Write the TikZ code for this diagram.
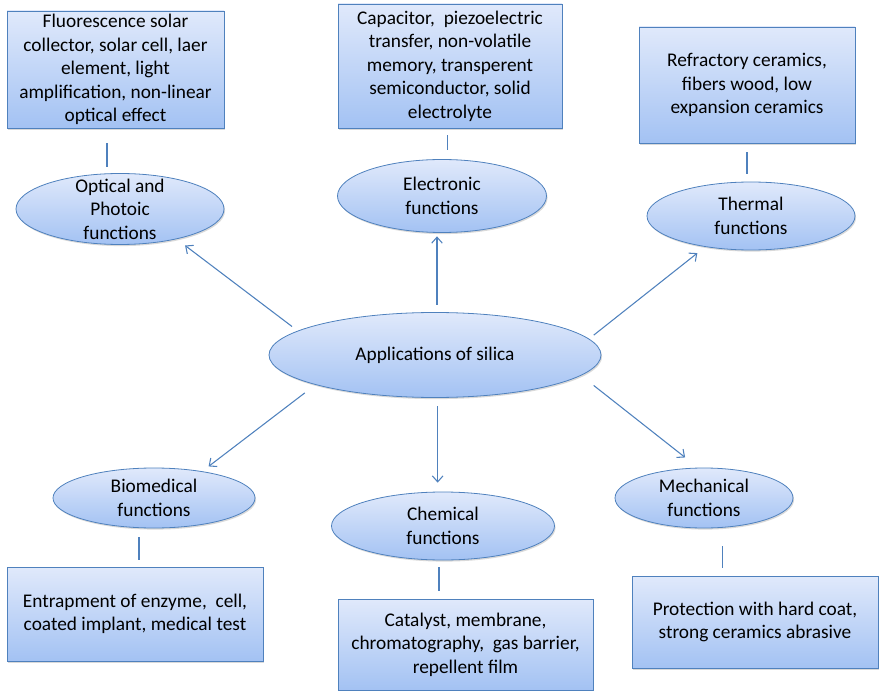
\documentclass[tikz,border=0pt]{standalone}
\usepackage{fontspec}
\setmainfont{Carlito}
\usetikzlibrary{positioning, arrows.meta, shapes.geometric, shadows}
\definecolor{edgeblue}{RGB}{79,129,189}
\definecolor{filltop}{RGB}{224,233,251}
\definecolor{fillbot}{RGB}{163,194,243}
\newcommand{\diafont}{\fontsize{14.5}{17.6}\selectfont}

\begin{document}
\begin{tikzpicture}[x=0.75pt, y=-0.75pt,
    shade/.style={top color=filltop, bottom color=fillbot, draw=edgeblue, line width=0.6pt,
      drop shadow={shadow xshift=0.8pt, shadow yshift=-1.2pt, opacity=0.25, fill=black!60}},
    infobox/.style={shade, rectangle, inner sep=0pt, align=center, font=\diafont},
    func/.style={shade, ellipse, inner sep=0pt},
    functext/.style={align=center, font=\diafont, inner sep=0pt},
    arr/.style={draw=edgeblue, line width=0.8pt, -{Straight Barb[length=4.5pt, width=8pt]}},
    link/.style={draw=edgeblue, line width=0.8pt}]
  \useasboundingbox (0,0) rectangle (881,691);

  % Centre
  \node[func, minimum width=249pt, minimum height=63.75pt,
    label={[functext]center:Applications of silica}] (app) at (435,355) {};

  % Functions
  \node[func, minimum width=156pt, minimum height=53.25pt,
    label={[functext]center:Optical and\\Photoic\\functions}] (opt) at (120,209) {};
  \node[func, minimum width=156.75pt, minimum height=54.75pt,
    label={[functext]center:Electronic\\functions}] (elec) at (442,196) {};
  \node[func, minimum width=156pt, minimum height=51pt,
    label={[functext]center:Thermal\\functions}] (therm) at (751,216) {};
  \node[func, minimum width=151.5pt, minimum height=45pt,
    label={[functext]center:Biomedical\\functions}] (bio) at (154,498) {};
  \node[func, minimum width=167.25pt, minimum height=51pt,
    label={[functext]center:Chemical\\functions}] (chem) at (443,526) {};
  \node[func, minimum width=133.5pt, minimum height=45pt,
    label={[functext]center:Mechanical\\functions}] (mech) at (704,498) {};

  % Uses
  \node[infobox, minimum width=162.75pt, minimum height=87.75pt] (optbox) at (115.5,69.5)
    {Fluorescence solar\\collector, solar cell, laer\\element, light\\amplification, non-linear\\optical effect};
  \node[infobox, minimum width=168pt, minimum height=93pt] (elecbox) at (450,66)
    {Capacitor,~ piezoelectric\\transfer, non-volatile\\memory, transperent\\semiconductor, solid\\electrolyte};
  \node[infobox, minimum width=162pt, minimum height=87pt] (thermbox) at (747,85)
    {Refractory ceramics,\\fibers wood, low\\expansion ceramics};
  \node[infobox, minimum width=192pt, minimum height=70.5pt] (biobox) at (135,614)
    {Entrapment of enzyme,~ cell,\\coated implant, medical test};
  \node[infobox, minimum width=191.25pt, minimum height=68.25pt] (chembox) at (465.5,644.5)
    {Catalyst, membrane,\\chromatography,~ gas barrier,\\repellent film};
  \node[infobox, minimum width=184.5pt, minimum height=69pt] (mechbox) at (755,622)
    {Protection with hard coat,\\strong ceramics abrasive};

  % Arrows out of the centre
  \draw[arr, shorten <=5.3pt, shorten >=7.9pt] (app.170) -- (opt.-28);
  \draw[arr, shorten <=5.6pt, shorten >=2.6pt] ([xshift=1.5pt]app.north) -- ([xshift=1.5pt]app.north |- elec.south);
  \draw[arr, shorten <=4.5pt, shorten >=7.5pt] (app.6) -- (therm.214);
  \draw[arr, shorten <=10pt, shorten >=6pt] (app.194) -- (bio.29);
  \draw[arr, shorten <=6.4pt, shorten >=6.7pt] ([xshift=2pt]app.south) -- ([xshift=2pt]app.south |- chem.north);
  \draw[arr, shorten <=12pt, shorten >=12.4pt] (app.-8) -- (mech.101);

  % Links to the boxes
  \draw[link, shorten <=11.2pt, shorten >=4.9pt] ([xshift=-6.4pt]optbox.south) -- ([xshift=-6.4pt]optbox.south |- opt.north);
  \draw[link, shorten <=5.2pt, shorten >=7.1pt] ([xshift=-2.2pt]elecbox.south) -- ([xshift=-2.2pt]elecbox.south |- elec.north);
  \draw[link, shorten <=6.7pt, shorten >=6pt] (thermbox.south) -- (thermbox.south |- therm.north);
  \draw[link, shorten <=6.7pt, shorten >=5.2pt] ([xshift=3pt]biobox.north |- bio.south) -- ([xshift=3pt]biobox.north);
  \draw[link, shorten <=5.2pt, shorten >=6pt] ([xshift=-3pt]chem.south) -- ([xshift=-3pt]chem.south |- chembox.north);
  \draw[link, shorten <=13.5pt, shorten >=6pt] ([xshift=14.2pt]mech.south) -- ([xshift=14.2pt]mech.south |- mechbox.north);
\end{tikzpicture}
\end{document}
